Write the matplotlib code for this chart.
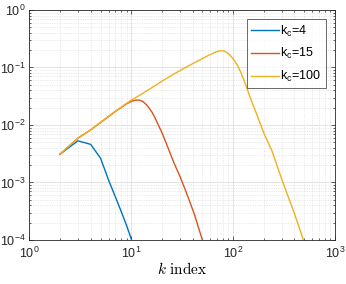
import math
import matplotlib
matplotlib.use('Agg')
import matplotlib.pyplot as plt
from matplotlib.ticker import FuncFormatter, LogLocator, NullFormatter

plt.rcParams['font.family'] = ['Liberation Sans', 'DejaVu Sans']

# spectra
k_4 = [2, 3, 4, 5, 6, 7, 8, 9, 10, 11]
E_4 = [3.1e-3, 5.3e-3, 4.6e-3, 2.65e-3, 1.1e-3, 5.6e-4, 3.1e-4, 1.8e-4, 1.05e-4, 6.5e-5]

k_15 = [2, 3, 4, 5, 6, 7, 8, 9, 10, 11, 12, 13, 14, 15, 16, 17, 18, 19, 20,
        21, 22, 24, 26, 28, 30, 34, 38, 42, 46, 50, 55]
E_15 = [3.1e-3, 5.9e-3, 8.2e-3, 1.1e-2, 1.4e-2, 1.72e-2, 2.02e-2, 2.33e-2,
        2.57e-2, 2.70e-2, 2.71e-2, 2.56e-2, 2.28e-2, 1.97e-2, 1.67e-2,
        1.37e-2, 1.10e-2, 9.0e-3, 7.4e-3, 6.0e-3, 4.9e-3, 3.3e-3, 2.3e-3,
        1.7e-3, 1.3e-3, 7.4e-4, 4.4e-4, 2.7e-4, 1.6e-4, 1.0e-4, 6.2e-5]

k_100 = [2, 3, 4, 5, 6, 7, 8, 10, 12, 15, 20, 25, 30, 40, 50, 55, 60, 65, 68,
         72, 75, 78, 81, 85, 90, 95, 100, 110, 120, 130, 150, 175, 200, 240,
         300, 400, 500, 600]
E_100 = [3.1e-3, 5.9e-3, 8.2e-3, 1.11e-2, 1.42e-2, 1.73e-2, 2.05e-2, 2.7e-2,
         3.25e-2, 4.15e-2, 5.75e-2, 7.3e-2, 8.8e-2, 1.16e-1, 1.43e-1, 1.56e-1,
         1.68e-1, 1.79e-1, 1.86e-1, 1.92e-1, 1.95e-1, 1.955e-1, 1.93e-1,
         1.86e-1, 1.73e-1, 1.58e-1, 1.42e-1, 1.10e-1, 8.0e-2, 5.6e-2, 2.75e-2,
         1.37e-2, 7.3e-3, 3.6e-3, 1.15e-3, 2.9e-4, 9.0e-5, 4.0e-5]

labels = [r'k$_{\mathregular{c}}$=4', r'k$_{\mathregular{c}}$=15',
          r'k$_{\mathregular{c}}$=100']
colors = ['#0072BD', '#D95319', '#EDB120']

fig = plt.figure(figsize=(3.46, 2.84), dpi=100)
ax = fig.add_axes([0.0847, 0.155, 0.8833, 0.81])

for k, E, lab, c in zip([k_4, k_15, k_100], [E_4, E_15, E_100], labels, colors):
    ax.loglog(k, E, color=c, lw=1.0, label=lab)

ax.set_xlim(1, 1000)
ax.set_ylim(1e-4, 1)

fmt = FuncFormatter(lambda v, p: r'$\mathregular{10^{%d}}$' % round(math.log10(v)))
ax.xaxis.set_major_formatter(fmt)
ax.yaxis.set_major_formatter(fmt)
ax.xaxis.set_minor_formatter(NullFormatter())
ax.yaxis.set_minor_formatter(NullFormatter())
ax.xaxis.set_minor_locator(LogLocator(subs=range(2, 10), numticks=20))
ax.yaxis.set_minor_locator(LogLocator(subs=range(2, 10), numticks=20))

ax.grid(True, which='major', color='#dedede', lw=0.6, ls='-')
ax.grid(True, which='minor', color='#d8d8d8', lw=0.5, ls=(0, (1, 1.5)))
ax.set_axisbelow(True)

ax.tick_params(which='both', direction='in', top=True, right=True,
               colors='#262626', labelsize=9, labelcolor='#262626')
ax.tick_params(which='major', length=3, width=0.5, pad=2.5)
ax.tick_params(axis='x', which='major', pad=4)
ax.tick_params(which='minor', length=1.6, width=0.5)
for s in ax.spines.values():
    s.set_color('#262626')
    s.set_linewidth(0.6)

xl = ax.set_xlabel(r'$k\ \mathrm{index}$', fontsize=11, labelpad=0)
xl.set_math_fontfamily('cm')

leg = ax.legend(loc='upper right', fontsize=9, frameon=True, fancybox=False,
                handlelength=2.2, handletextpad=0.15, labelspacing=0.6,
                borderpad=0.35, borderaxespad=0.75)
leg.get_frame().set_edgecolor('#262626')
leg.get_frame().set_linewidth(0.6)

fig.savefig('out.png', dpi=100)
